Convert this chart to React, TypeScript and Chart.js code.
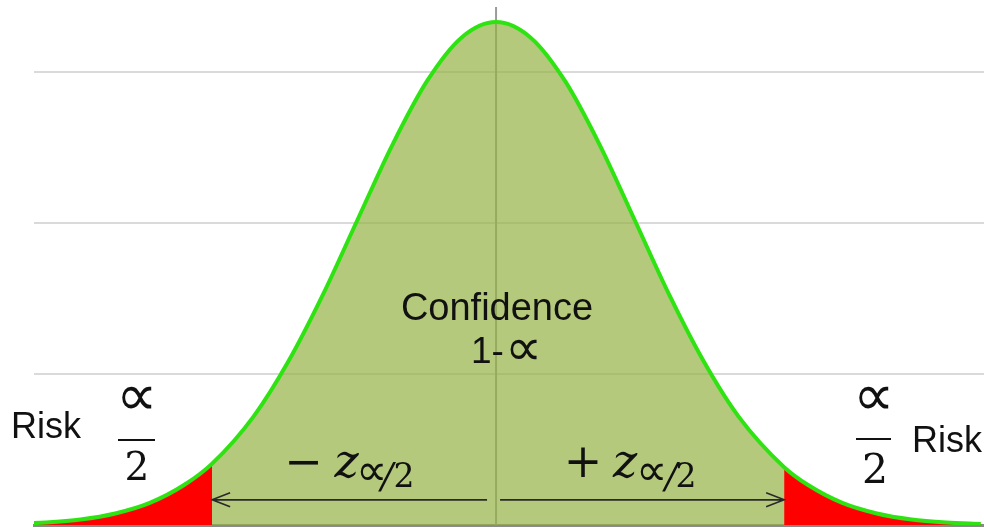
import React, { useEffect, useRef } from "react";
import { Chart, registerables } from "chart.js";

Chart.register(...registerables);

// Standard normal curve, heights scaled so the peak reads 100.
const zValues = [
  -3.5, -3.25, -3, -2.75, -2.5, -2.25, -2.05, -1.75, -1.5, -1.25, -1, -0.75, -0.5, -0.25, 0,
  0.25, 0.5, 0.75, 1, 1.25, 1.5, 1.75, 2.08, 2.25, 2.5, 2.75, 3, 3.25, 3.5,
];
const heights = [
  0.2, 0.5, 1.1, 2.3, 4.4, 8.0, 12.2, 21.6, 32.5, 45.8, 60.7, 75.5, 88.2, 96.9, 100,
  96.9, 88.2, 75.5, 60.7, 45.8, 32.5, 21.6, 11.5, 8.0, 4.4, 2.3, 1.1, 0.5, 0.2,
];

// Critical values bounding the confidence region.
const lowerCritical = -2.05;
const upperCritical = 2.08;

// Axis extents and grid spacing.
const xMin = -3.336;
const xMax = 3.523;
const yMax = 103;
const yStep = 30;

// Span markers (value level and the gap left at the centre).
const arrowLevel = 5;
const arrowInnerLeft = -0.065;
const arrowInnerRight = 0.029;

const curve = zValues.map((z, i) => ({ x: z, y: heights[i] }));
const lowerTail = curve.filter((p) => p.x <= lowerCritical);
const upperTail = curve.filter((p) => p.x >= upperCritical);

const SANS = '"Liberation Sans", Arial, sans-serif';
const SERIF = '"DejaVu Serif", serif';
const SYMBOL = '"DejaVu Sans", sans-serif';

function put(
  ctx: CanvasRenderingContext2D,
  text: string,
  font: string,
  x: number,
  y: number,
  align: CanvasTextAlign = "center"
) {
  ctx.font = font;
  ctx.textAlign = align;
  ctx.textBaseline = "alphabetic";
  ctx.fillText(text, x, y);
}

const centreLine = {
  id: "centreLine",
  beforeDatasetsDraw(chart: any) {
    const { ctx, chartArea, scales } = chart;
    const x = scales.x.getPixelForValue(0);
    ctx.save();
    ctx.strokeStyle = "#9b9b9b";
    ctx.lineWidth = 2;
    ctx.beginPath();
    ctx.moveTo(x, chartArea.top);
    ctx.lineTo(x, chartArea.bottom);
    ctx.stroke();
    ctx.restore();
  },
};

const annotations = {
  id: "annotations",
  afterDraw(chart: any) {
    const { ctx, scales } = chart;
    const xs = scales.x;
    const ys = scales.y;
    const ay = ys.getPixelForValue(arrowLevel);
    ctx.save();

    // Arrows from the centre out to each critical value.
    ctx.strokeStyle = "#2a2a2a";
    ctx.lineWidth = 1.6;
    const arrow = (from: number, to: number) => {
      const x0 = xs.getPixelForValue(from);
      const x1 = xs.getPixelForValue(to);
      const dir = Math.sign(x1 - x0);
      ctx.beginPath();
      ctx.moveTo(x0, ay);
      ctx.lineTo(x1, ay);
      ctx.moveTo(x1 - dir * 18, ay - 7);
      ctx.lineTo(x1, ay);
      ctx.lineTo(x1 - dir * 18, ay + 7);
      ctx.stroke();
    };
    arrow(arrowInnerLeft, lowerCritical);
    arrow(arrowInnerRight, upperCritical);

    ctx.fillStyle = "#111111";

    // Centre label
    put(ctx, "Confidence", `38px ${SANS}`, 497, 320);
    put(ctx, "1-", `37px ${SANS}`, 471, 363, "left");
    put(ctx, "\u221D", `200 52px ${SYMBOL}`, 523, 365);

    // Left risk label with fraction
    put(ctx, "Risk", `36px ${SANS}`, 11, 438, "left");
    put(ctx, "\u221D", `200 58px ${SYMBOL}`, 136.5, 415);
    put(ctx, "2", `39px ${SERIF}`, 137, 480);

    // Right risk label with fraction
    put(ctx, "\u221D", `200 58px ${SYMBOL}`, 873, 415);
    put(ctx, "2", `41px ${SERIF}`, 875, 483);
    put(ctx, "Risk", `36px ${SANS}`, 912, 452, "left");

    ctx.fillRect(118, 439, 37, 2);
    ctx.fillRect(856, 438, 35, 2);

    // Critical value labels
    put(ctx, "\u2212", `46px ${SERIF}`, 303.5, 477);
    put(ctx, "z", `italic 46px ${SERIF}`, 346.5, 477);
    put(ctx, "\u221D", `200 44px ${SYMBOL}`, 371.5, 485);
    put(ctx, "/", `italic 36px ${SERIF}`, 387, 488);
    put(ctx, "2", `33px ${SERIF}`, 404, 487);

    put(ctx, "+", `46px ${SERIF}`, 583, 477);
    put(ctx, "z", `italic 46px ${SERIF}`, 625, 477);
    put(ctx, "\u221D", `200 44px ${SYMBOL}`, 651, 485);
    put(ctx, "/", `italic 36px ${SERIF}`, 671, 488);
    put(ctx, "2", `33px ${SERIF}`, 686, 487);

    ctx.restore();
  },
};

export default function App() {
  const canvasRef = useRef<HTMLCanvasElement | null>(null);

  useEffect(() => {
    const canvas = canvasRef.current;
    if (!canvas) return;
    const chart = new Chart(canvas, {
      type: "line",
      data: {
        datasets: [
          {
            data: curve,
            order: 1,
            fill: false,
            borderColor: "#2fe312",
            borderWidth: 4,
            pointRadius: 0,
            cubicInterpolationMode: "monotone",
          },
          {
            data: lowerTail,
            order: 2,
            fill: "origin",
            backgroundColor: "#ff0000",
            borderColor: "rgba(0,0,0,0)",
            borderWidth: 0,
            pointRadius: 0,
            cubicInterpolationMode: "monotone",
          },
          {
            data: upperTail,
            order: 2,
            fill: "origin",
            backgroundColor: "#ff0000",
            borderColor: "rgba(0,0,0,0)",
            borderWidth: 0,
            pointRadius: 0,
            cubicInterpolationMode: "monotone",
          },
          {
            data: curve,
            order: 3,
            fill: "origin",
            backgroundColor: "rgba(149,178,68,0.7)",
            borderColor: "rgba(0,0,0,0)",
            borderWidth: 0,
            pointRadius: 0,
            cubicInterpolationMode: "monotone",
          },
        ],
      },
      options: {
        responsive: false,
        animation: false,
        events: [],
        layout: { padding: { left: 34, top: 7, right: 0, bottom: 4 } },
        plugins: {
          legend: { display: false },
          tooltip: { enabled: false },
        },
        scales: {
          x: {
            type: "linear",
            min: xMin,
            max: xMax,
            z: 1,
            ticks: { display: false },
            grid: { display: false, drawTicks: false },
            border: { display: true, color: "#8a8a8a", width: 3 },
          },
          y: {
            type: "linear",
            min: 0,
            max: yMax,
            ticks: { display: false, stepSize: yStep, includeBounds: false },
            grid: { color: "#dadada", lineWidth: 2, drawTicks: false },
            border: { display: false },
          },
        },
      },
      plugins: [centreLine, annotations],
    });
    return () => chart.destroy();
  }, []);

  return (
    <div style={{ position: "fixed", left: 0, top: 0, width: 984, height: 529, background: "#ffffff" }}>
      <canvas ref={canvasRef} width={984} height={529} style={{ display: "block" }} />
    </div>
  );
}
